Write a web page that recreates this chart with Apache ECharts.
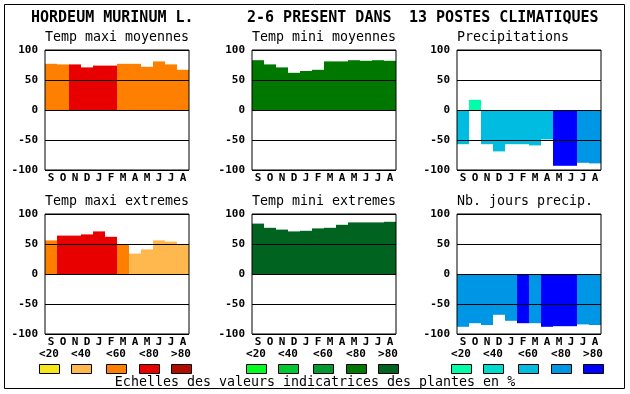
<!DOCTYPE html>
<html><head><meta charset="utf-8">
<script src="https://cdn.jsdelivr.net/npm/echarts@6/dist/echarts.min.js"></script>
<style>html,body{margin:0;padding:0;background:#fff}#c{width:630px;height:394px}</style>
</head><body><div id="c"></div>
<script>
// ---- data ----
const months = ['S','O','N','D','J','F','M','A','M','J','J','A'];
const yTicks = [-100, -50, 0, 50, 100];
const classLabels = ['<20','<40','<60','<80','>80'];
const titleParts = ['HORDEUM MURINUM L.', '2-6 PRESENT DANS', '13 POSTES CLIMATIQUES'];
const panelTitles = ['Temp maxi moyennes','Temp mini moyennes','Precipitations',
                     'Temp maxi extremes','Temp mini extremes','Nb. jours precip.'];
const footer = 'Echelles des valeurs indicatrices des plantes en %';

const tempMaxiMoy      = [77, 76, 76, 71, 74, 74, 77, 77, 72, 81, 76, 67];
const tempMaxiMoyClass = [2, 2, 3, 3, 3, 3, 2, 2, 2, 2, 2, 2];
const tempMiniMoy      = [83, 76, 71, 62, 65, 67, 81, 81, 83, 82, 83, 82];
const tempMiniMoyClass = [3, 3, 3, 3, 3, 3, 3, 3, 3, 3, 3, 3];
const precip           = [-57, 17, -57, -69, -57, -57, -59, -49, -93, -93, -88, -89];
const precipClass      = [2, 0, 2, 2, 2, 2, 2, 2, 4, 4, 3, 3];
const tempMaxiExt      = [56, 64, 64, 66, 71, 62, 50, 34, 41, 56, 54, 50];
const tempMaxiExtClass = [2, 3, 3, 3, 3, 3, 2, 1, 1, 1, 1, 1];
const tempMiniExt      = [84, 77, 74, 71, 72, 76, 77, 82, 86, 86, 86, 87];
const tempMiniExtClass = [4, 4, 4, 4, 4, 4, 4, 4, 4, 4, 4, 4];
const nbJours          = [-88, -82, -85, -68, -78, -82, -82, -88, -87, -87, -84, -85];
const nbJoursClass     = [3, 3, 3, 3, 3, 4, 3, 4, 4, 4, 3, 3];

// ---- styles ----
const paletteTemp = ['#f8e61c','#ffb84e','#ff8000','#e80000','#b00c00'];
const paletteGreen = ['#00ff20','#00c832','#009a30','#007800','#006420'];
const paletteBlue = ['#00ffaa','#00dccc','#00bce0','#0096e6','#0000ff'];
const MONO = '"DejaVu Sans Mono", monospace';

const panels = [
  {values: tempMaxiMoy, cls: tempMaxiMoyClass, pal: paletteTemp, left: 45, top: 50},
  {values: tempMiniMoy, cls: tempMiniMoyClass, pal: paletteGreen, left: 252, top: 50},
  {values: precip, cls: precipClass, pal: paletteBlue, left: 457, top: 50},
  {values: tempMaxiExt, cls: tempMaxiExtClass, pal: paletteTemp, left: 45, top: 214},
  {values: tempMiniExt, cls: tempMiniExtClass, pal: paletteGreen, left: 252, top: 214},
  {values: nbJours, cls: nbJoursClass, pal: paletteBlue, left: 457, top: 214}
];
const W = 144, H = 120;

const grids = [], xAxes = [], yAxes = [], series = [], graphics = [];
panels.forEach((p, i) => {
  grids.push({left: p.left, top: p.top, width: W, height: H, show: true,
    borderColor: '#000', borderWidth: 1, backgroundColor: 'rgba(0,0,0,0)', z: 6});
  xAxes.push({type: 'category', gridIndex: i, data: months,
    axisLine: {show: false}, axisTick: {show: false},
    axisLabel: {interval: 0, margin: 3, color: '#000', fontFamily: MONO, fontWeight: 'bold', fontSize: 11}});
  yAxes.push({type: 'value', gridIndex: i, min: yTicks[0], max: yTicks[yTicks.length-1], interval: 50, z: 5,
    axisLine: {show: false}, axisTick: {show: false},
    splitLine: {show: true, lineStyle: {color: '#000', width: 1}},
    axisLabel: {margin: 7, color: '#000', fontFamily: MONO, fontWeight: 'bold', fontSize: 11}});
  series.push({type: 'bar', xAxisIndex: i, yAxisIndex: i, barWidth: '100%', barCategoryGap: '0%',
    animation: false,
    data: p.values.map((v, k) => ({value: v, itemStyle: {color: p.pal[p.cls[k]]}}))});
  graphics.push({type: 'text', style: {text: panelTitles[i], x: p.left, y: p.top - 12,
    font: '13.3px ' + MONO, fill: '#000', align: 'left', verticalAlign: 'middle'}});
});

// main title
const titleX = [31, 247, 409];
titleParts.forEach((t, i) => graphics.push({type: 'text', style: {text: t, x: titleX[i], y: 18,
  font: 'bold 15px ' + MONO, fill: '#000', align: 'left', verticalAlign: 'middle'}}));

// class legends under bottom row
const boxOffsets = [-6, 26, 61, 94, 126];
[[45, paletteTemp], [252, paletteGreen], [457, paletteBlue]].forEach(([gl, pal]) => {
  boxOffsets.forEach((o, k) => {
    const x = gl + o;
    graphics.push({type: 'text', style: {text: classLabels[k], x: x + 10, y: 354.5,
      font: 'bold 11px ' + MONO, fill: '#000', align: 'center', verticalAlign: 'middle'}});
    graphics.push({type: 'rect', shape: {x: x + 0.5, y: 364.5, width: 20, height: 9},
      style: {fill: pal[k], stroke: '#000', lineWidth: 1}});
  });
});
graphics.push({type: 'text', style: {text: footer, x: 315, y: 382.5,
  font: '13.3px ' + MONO, fill: '#000', align: 'center', verticalAlign: 'middle'}});
graphics.push({type: 'rect', shape: {x: 4.5, y: 4.5, width: 620, height: 384},
  style: {fill: 'none', stroke: '#000', lineWidth: 1}, z: 10});

const chart = echarts.init(document.getElementById('c'), null, {renderer: 'canvas'});
chart.setOption({
  animation: false,
  backgroundColor: '#fff',
  grid: grids, xAxis: xAxes, yAxis: yAxes, series: series, graphic: graphics
});
</script>
</body></html>
